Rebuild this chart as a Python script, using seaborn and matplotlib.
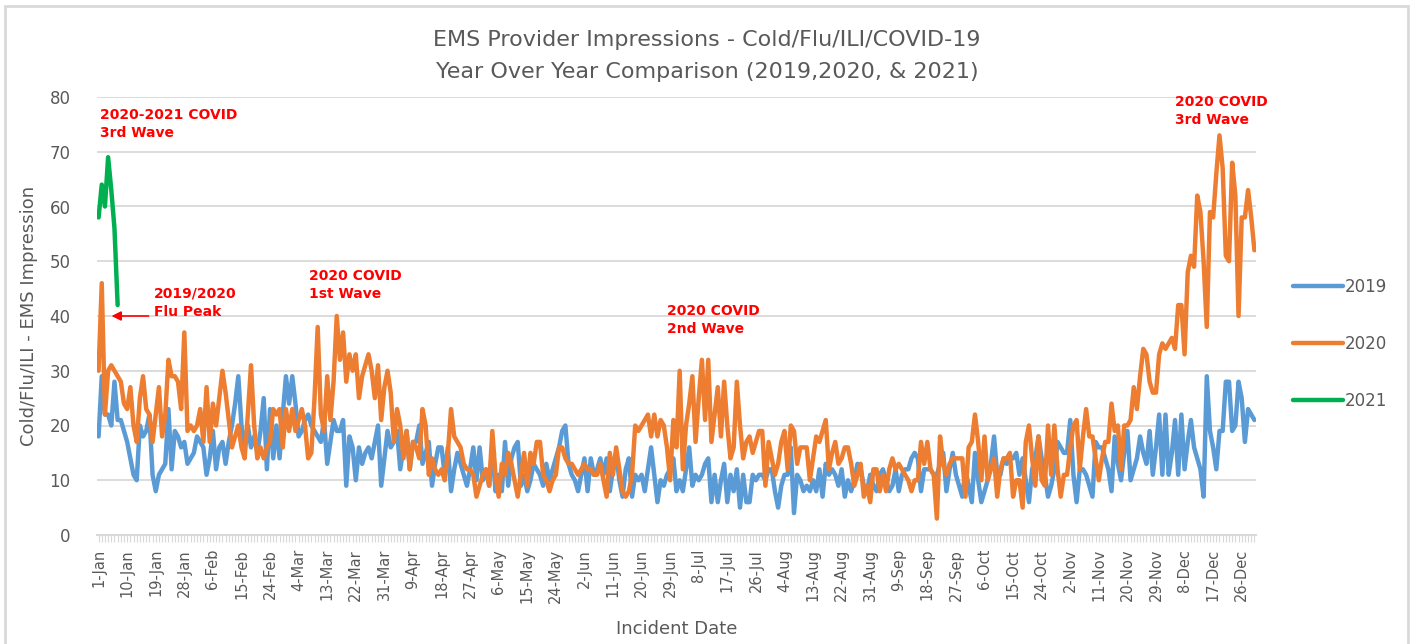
import numpy as np
import pandas as pd
import matplotlib
matplotlib.use("Agg")
import matplotlib.pyplot as plt
from matplotlib.patches import Rectangle
import seaborn as sns

# daily counts, one value per day (1-Jan .. 31-Dec)
ems_2019 = [
    18, 29, 22, 22, 20, 28, 21, 21, 19, 17,
    14, 11, 10, 20, 18, 19, 22, 11, 8, 11,
    12, 13, 23, 12, 19, 18, 16, 17, 13, 14,
    15, 18, 17, 16, 11, 14, 19, 12, 16, 17,
    13, 17, 20, 24, 29, 20, 16, 20, 16, 18,
    15, 19, 25, 12, 23, 14, 20, 14, 22, 29,
    24, 29, 24, 18, 19, 21, 22, 20, 19, 18,
    17, 21, 13, 17, 21, 19, 19, 21, 9, 18,
    16, 10, 16, 13, 15, 16, 14, 17, 20, 9,
    14, 19, 16, 17, 19, 12, 16, 19, 12, 17,
    17, 20, 13, 15, 17, 9, 13, 16, 16, 11,
    16, 8, 12, 15, 13, 11, 9, 12, 16, 10,
    16, 10, 12, 9, 16, 8, 11, 8, 17, 9,
    14, 16, 17, 9, 11, 8, 10, 13, 12, 11,
    9, 13, 10, 12, 14, 16, 19, 20, 13, 11,
    10, 8, 11, 14, 8, 14, 11, 12, 14, 11,
    14, 8, 12, 15, 10, 7, 12, 14, 7, 11,
    10, 11, 8, 12, 16, 11, 6, 10, 9, 11,
    12, 14, 8, 10, 8, 12, 16, 9, 11, 10,
    11, 13, 14, 6, 11, 6, 10, 13, 6, 11,
    8, 12, 5, 11, 6, 6, 11, 10, 11, 11,
    10, 12, 12, 8, 5, 9, 11, 11, 16, 4,
    11, 10, 8, 9, 8, 10, 8, 12, 7, 13,
    11, 12, 11, 9, 12, 7, 10, 8, 10, 13,
    12, 9, 8, 11, 9, 8, 11, 12, 10, 8,
    9, 12, 8, 11, 12, 12, 14, 15, 14, 8,
    12, 12, 12, 11, 11, 13, 15, 8, 12, 15,
    11, 9, 7, 12, 9, 6, 15, 10, 6, 8,
    10, 13, 18, 11, 11, 14, 13, 14, 14, 15,
    11, 14, 10, 6, 12, 14, 18, 14, 11, 7,
    9, 12, 17, 16, 15, 15, 21, 11, 6, 12,
    12, 11, 9, 7, 17, 16, 16, 14, 12, 8,
    18, 13, 10, 15, 19, 10, 12, 14, 18, 15,
    13, 19, 11, 16, 22, 11, 22, 11, 15, 21,
    11, 22, 12, 17, 21, 16, 14, 12, 7, 29,
    19, 16, 12, 19, 19, 28, 28, 19, 20, 28,
    25, 17, 23, 22, 21,
]

ems_2020 = [
    30, 46, 22, 30, 31, 30, 29, 28, 24, 23,
    27, 20, 17, 25, 29, 23, 22, 17, 22, 27,
    18, 22, 32, 29, 29, 28, 23, 37, 19, 20,
    19, 20, 23, 17, 27, 17, 24, 20, 25, 30,
    26, 21, 16, 18, 20, 16, 14, 22, 31, 20,
    14, 16, 14, 16, 17, 23, 22, 23, 16, 23,
    19, 23, 19, 21, 23, 20, 14, 15, 25, 38,
    22, 19, 29, 21, 28, 40, 32, 37, 28, 33,
    30, 33, 25, 29, 31, 33, 30, 25, 31, 21,
    27, 30, 26, 17, 23, 20, 14, 19, 12, 17,
    16, 14, 23, 20, 11, 14, 12, 11, 12, 10,
    15, 23, 18, 17, 16, 13, 12, 12, 11, 7,
    9, 11, 12, 9, 19, 11, 7, 13, 11, 15,
    13, 10, 7, 11, 15, 9, 15, 13, 17, 17,
    11, 10, 8, 10, 11, 16, 16, 14, 13, 13,
    12, 11, 12, 13, 12, 12, 11, 11, 13, 10,
    7, 15, 11, 16, 12, 8, 7, 8, 11, 20,
    19, 20, 21, 22, 18, 22, 18, 21, 20, 16,
    10, 21, 16, 30, 12, 20, 24, 29, 17, 25,
    32, 21, 32, 17, 22, 27, 18, 28, 20, 14,
    16, 28, 20, 14, 17, 18, 15, 17, 19, 19,
    9, 17, 14, 11, 13, 17, 19, 12, 20, 19,
    13, 16, 16, 16, 10, 14, 18, 17, 19, 21,
    12, 15, 17, 13, 14, 16, 16, 13, 9, 11,
    13, 7, 9, 6, 12, 12, 8, 11, 8, 12,
    14, 12, 13, 12, 11, 10, 8, 10, 10, 17,
    13, 17, 12, 11, 3, 18, 13, 11, 13, 14,
    14, 14, 14, 7, 16, 17, 22, 17, 10, 18,
    10, 12, 14, 7, 12, 14, 14, 15, 7, 10,
    10, 5, 17, 20, 14, 9, 18, 10, 9, 20,
    11, 20, 12, 7, 11, 11, 16, 20, 21, 12,
    18, 23, 18, 18, 14, 10, 14, 17, 17, 24,
    19, 20, 12, 20, 20, 21, 27, 23, 29, 34,
    33, 28, 26, 26, 33, 35, 34, 35, 36, 34,
    42, 42, 33, 48, 51, 49, 62, 59, 50, 38,
    59, 58, 66, 73, 67, 51, 50, 68, 62, 40,
    58, 58, 63, 58, 52,
]

ems_2021 = [58, 64, 60, 69, 63, 56, 42]

years = ["2019", "2020", "2021"]
colors = ["#5B9BD5", "#ED7D31", "#00B050"]

tick_labels = [
    "1-Jan", "10-Jan", "19-Jan", "28-Jan", "6-Feb", "15-Feb", "24-Feb",
    "4-Mar", "13-Mar", "22-Mar", "31-Mar", "9-Apr", "18-Apr", "27-Apr",
    "6-May", "15-May", "24-May", "2-Jun", "11-Jun", "20-Jun", "29-Jun",
    "8-Jul", "17-Jul", "26-Jul", "4-Aug", "13-Aug", "22-Aug", "31-Aug",
    "9-Sep", "18-Sep", "27-Sep", "6-Oct", "15-Oct", "24-Oct", "2-Nov",
    "11-Nov", "20-Nov", "29-Nov", "8-Dec", "17-Dec", "26-Dec",
]

frames = []
for yr, vals in zip(years, [ems_2019, ems_2020, ems_2021]):
    frames.append(pd.DataFrame({"day": np.arange(len(vals)), "count": vals, "year": yr}))
df = pd.concat(frames, ignore_index=True)

sns.set_theme(style="white")
plt.rcParams["font.family"] = ["DejaVu Sans"]

grey = "#595959"
fig = plt.figure(figsize=(14.12, 6.44), dpi=100)
ax = fig.add_axes([97 / 1412, 1 - 535 / 644, (1256 - 97) / 1412, (535 - 97) / 644])

sns.lineplot(
    data=df, x="day", y="count", hue="year", palette=dict(zip(years, colors)),
    linewidth=3.2, sort=False, errorbar=None, ax=ax, legend=False,
)

ax.set_xlim(-0.5, 364.5)
ax.set_ylim(0, 80)
ax.set_yticks(range(0, 81, 10))
ax.yaxis.grid(True, color="#D9D9D9", linewidth=1.3)
ax.set_axisbelow(True)
for s in ["left", "right", "top"]:
    ax.spines[s].set_visible(False)
ax.spines["bottom"].set_color("#D9D9D9")
ax.spines["bottom"].set_linewidth(1.5)

ax.set_xticks(range(0, 9 * len(tick_labels), 9))
ax.set_xticklabels(tick_labels, rotation=90)
ax.set_xticks(range(365), minor=True)
ax.tick_params(axis="x", which="both", length=5, width=0.8, color="#D9D9D9",
               labelsize=10.5, labelcolor=grey, pad=5, bottom=True)
ax.tick_params(axis="y", length=0, labelsize=12, labelcolor=grey, pad=19)

ax.set_xlabel("Incident Date", fontsize=13, color=grey, labelpad=12)
ax.set_ylabel("Cold/Flu/ILI - EMS Impression", fontsize=13, color=grey, labelpad=8)

fig.text(707 / 1412, 1 - 40 / 644, "EMS Provider Impressions - Cold/Flu/ILI/COVID-19",
         ha="center", va="center", fontsize=16, color=grey)
fig.text(707 / 1412, 1 - 72 / 644, "Year Over Year Comparison (2019,2020, & 2021)",
         ha="center", va="center", fontsize=16, color=grey)

# annotations
red = "#FF0000"
notes = [
    (0.3, 78.0, "2020-2021 COVID\n3rd Wave"),
    (17.4, 45.3, "2019/2020\nFlu Peak"),
    (66.2, 48.6, "2020 COVID\n1st Wave"),
    (178.9, 42.2, "2020 COVID\n2nd Wave"),
    (339.1, 80.4, "2020 COVID\n3rd Wave"),
]
for nx, ny, txt in notes:
    ax.text(nx, ny, txt, color=red, fontsize=10, fontweight="bold",
            ha="left", va="top", linespacing=1.35)
ax.annotate("", xy=(3.2, 40), xytext=(16.6, 40),
            arrowprops=dict(arrowstyle="-|>", color=red, lw=1.2, mutation_scale=14))

handles = [plt.Line2D([], [], color=c, linewidth=3.2) for c in colors]
fig.legend(handles, years, loc="center left", bbox_to_anchor=(1285 / 1412, 1 - 344 / 644),
           frameon=False, fontsize=12, labelspacing=2.35, handlelength=3.0,
           handletextpad=0.1, borderpad=0, labelcolor=grey)

fig.patches.append(Rectangle((5 / 1412, -0.05), (1408 - 5) / 1412, 1.05 - 6 / 644,
                             transform=fig.transFigure, fill=False,
                             edgecolor="#D9D9D9", linewidth=2))

fig.savefig("out.png", dpi=100)
plt.close(fig)
